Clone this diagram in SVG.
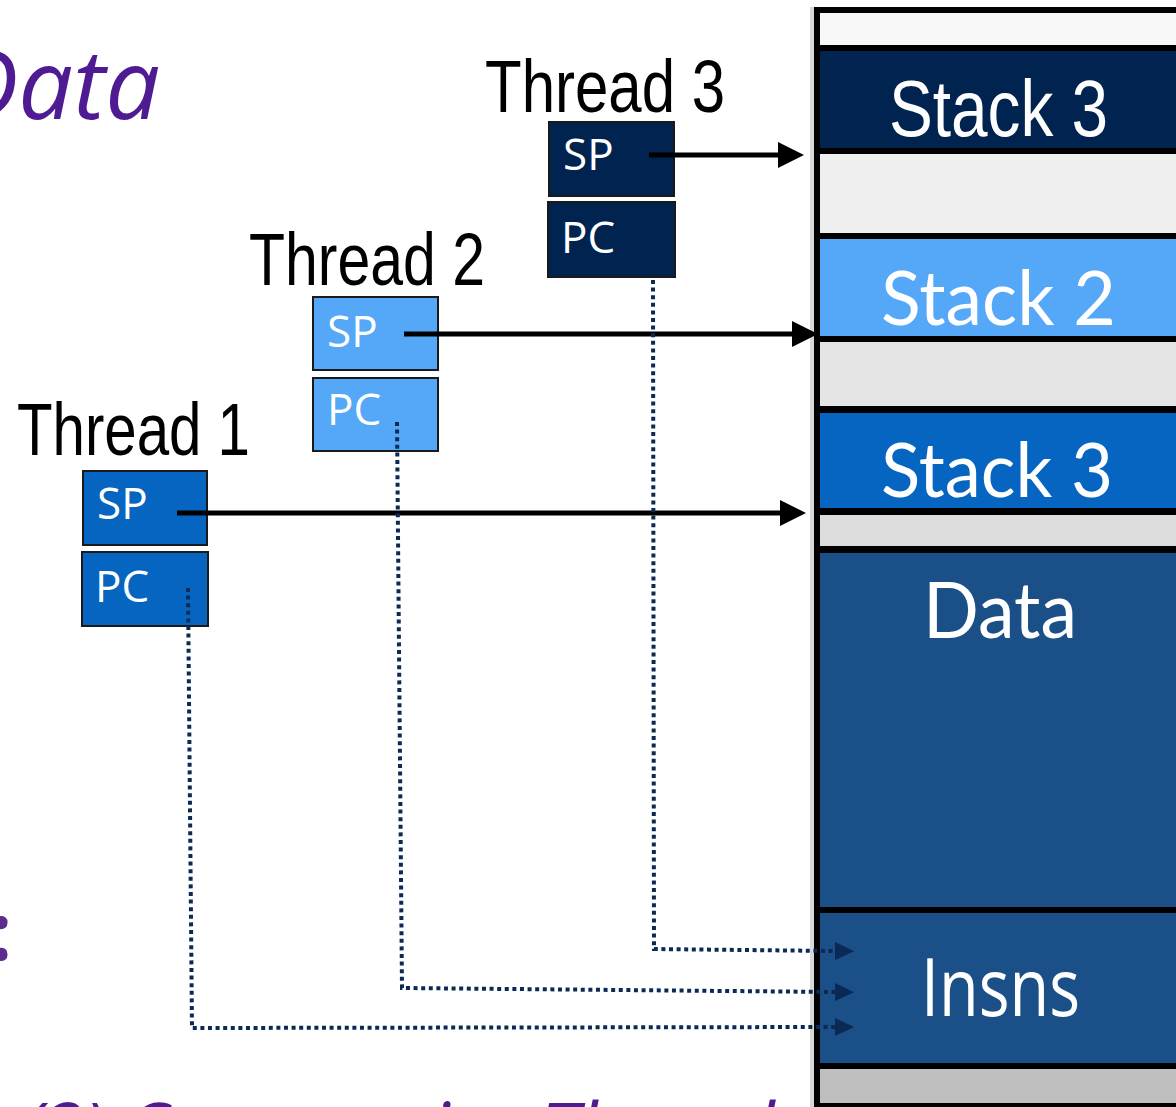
<svg xmlns="http://www.w3.org/2000/svg" width="1176" height="1107" viewBox="0 0 1176 1107">
  <defs>
    <style>
      .thread { font-family: "Liberation Sans", Arial, sans-serif; font-size: 74px; fill: #000; }
      .reg { stroke: #1a1a1a; stroke-width: 2; }
      .reglbl { font-family: "Open Sans", "Noto Sans", sans-serif; font-size: 44px; fill: #fff; }
      .seglbl { font-family: Lato, "Open Sans", sans-serif; fill: #fff; }
      .title { font-family: "Open Sans", "Noto Sans", sans-serif; font-style: italic; fill: #4f1b93; }
      .sp { fill: none; stroke: #000; stroke-width: 5; }
      .pc { fill: none; stroke: #0a2a55; stroke-width: 4; stroke-dasharray: 4 3.6; }
    </style>
    <marker id="head" markerUnits="userSpaceOnUse" markerWidth="26" markerHeight="26" refX="10" refY="13" orient="auto">
      <path d="M0,0 L26,13 L0,26 Z" fill="#000"/>
    </marker>
    <marker id="headDot" markerUnits="userSpaceOnUse" markerWidth="19" markerHeight="20" refX="1" refY="10" orient="auto">
      <path d="M0,1 L19,10 L0,19 Z" fill="#0a2a55"/>
    </marker>
  </defs>

  <rect width="1176" height="1107" fill="#fff"/>

  <!-- headings cut at the page edges -->
  <text class="title" x="160" y="119" font-size="97" text-anchor="end">Data</text>
  <text x="12" y="960" font-family="Open Sans, Noto Sans, sans-serif" font-weight="bold" font-size="78" fill="#5c2d8d" text-anchor="end">:</text>
  <text class="title" x="21" y="1158" font-size="76" textLength="786" lengthAdjust="spacingAndGlyphs">(2) Cooperative Threads</text>

  <!-- address space column -->
  <g id="memory">
    <rect x="810" y="7" width="4" height="1100" fill="#d8d8d8"/>
    <rect x="814" y="7" width="370" height="1100" fill="#000"/>
    <rect x="820" y="13" width="360" height="32" fill="#f8f8f8"/>
    <g id="stack3-top">
      <rect x="820" y="51" width="360" height="97" fill="#00234f"/>
      <text x="889" y="136" font-family="Liberation Sans, Arial, sans-serif" font-size="80" fill="#fff" textLength="219" lengthAdjust="spacingAndGlyphs">Stack 3</text>
    </g>
    <rect x="820" y="154" width="360" height="79" fill="#efefef"/>
    <g id="stack2">
      <rect x="820" y="239" width="360" height="97" fill="#55a8f8"/>
      <text class="seglbl" x="881" y="325" font-size="76" textLength="235" lengthAdjust="spacingAndGlyphs">Stack 2</text>
    </g>
    <rect x="820" y="342" width="360" height="64" fill="#e5e5e5"/>
    <g id="stack3-mid">
      <rect x="820" y="413" width="360" height="95" fill="#0565c1"/>
      <text class="seglbl" x="881" y="497" font-size="75" textLength="232" lengthAdjust="spacingAndGlyphs">Stack 3</text>
    </g>
    <rect x="820" y="515" width="360" height="31" fill="#dcdcdc"/>
    <g id="data">
      <rect x="820" y="553" width="360" height="354" fill="#1a4f87"/>
      <text class="seglbl" x="923" y="638" font-size="78" textLength="154" lengthAdjust="spacingAndGlyphs">Data</text>
    </g>
    <g id="insns">
      <rect x="820" y="913" width="360" height="150" fill="#1a4f87"/>
      <text x="921" y="1016" font-family="Open Sans, Noto Sans, sans-serif" font-size="80" fill="#fff" textLength="159" lengthAdjust="spacingAndGlyphs">Insns</text>
    </g>
    <rect x="820" y="1069" width="360" height="34" fill="#bebebe"/>
  </g>

  <!-- thread 3 -->
  <g id="thread3">
    <text class="thread" x="485" y="112" textLength="240" lengthAdjust="spacingAndGlyphs">Thread 3</text>
    <rect class="reg" x="549" y="122" width="125" height="74" fill="#00234f"/>
    <text class="reglbl" x="563" y="170">SP</text>
    <rect class="reg" x="548" y="202" width="127" height="75" fill="#00234f"/>
    <text class="reglbl" x="561" y="253">PC</text>
  </g>

  <!-- thread 2 -->
  <g id="thread2">
    <text class="thread" x="249" y="285" textLength="236" lengthAdjust="spacingAndGlyphs">Thread 2</text>
    <rect class="reg" x="313" y="297" width="125" height="73" fill="#55a8f8"/>
    <text class="reglbl" x="327" y="347">SP</text>
    <rect class="reg" x="313" y="378" width="125" height="73" fill="#55a8f8"/>
    <text class="reglbl" x="327" y="425">PC</text>
  </g>

  <!-- thread 1 -->
  <g id="thread1">
    <text class="thread" x="17" y="455" textLength="233" lengthAdjust="spacingAndGlyphs">Thread 1</text>
    <rect class="reg" x="83" y="471" width="124" height="74" fill="#0565c1"/>
    <text class="reglbl" x="97" y="519">SP</text>
    <rect class="reg" x="82" y="552" width="126" height="74" fill="#0565c1"/>
    <text class="reglbl" x="95" y="602">PC</text>
  </g>

  <!-- stack pointers (solid) and program counters (dotted) -->
  <g id="connectors">
    <path class="sp" d="M649,155 H788" marker-end="url(#head)"/>
    <path class="sp" d="M404,334 H802" marker-end="url(#head)"/>
    <path class="sp" d="M177,513 H790" marker-end="url(#head)"/>
    <path class="pc" d="M653,280 L654,949 L836,951" marker-end="url(#headDot)"/>
    <path class="pc" d="M397,422 L402,988 L836,992" marker-end="url(#headDot)"/>
    <path class="pc" d="M188,588 L192,1028 L836,1027" marker-end="url(#headDot)"/>
  </g>
</svg>
